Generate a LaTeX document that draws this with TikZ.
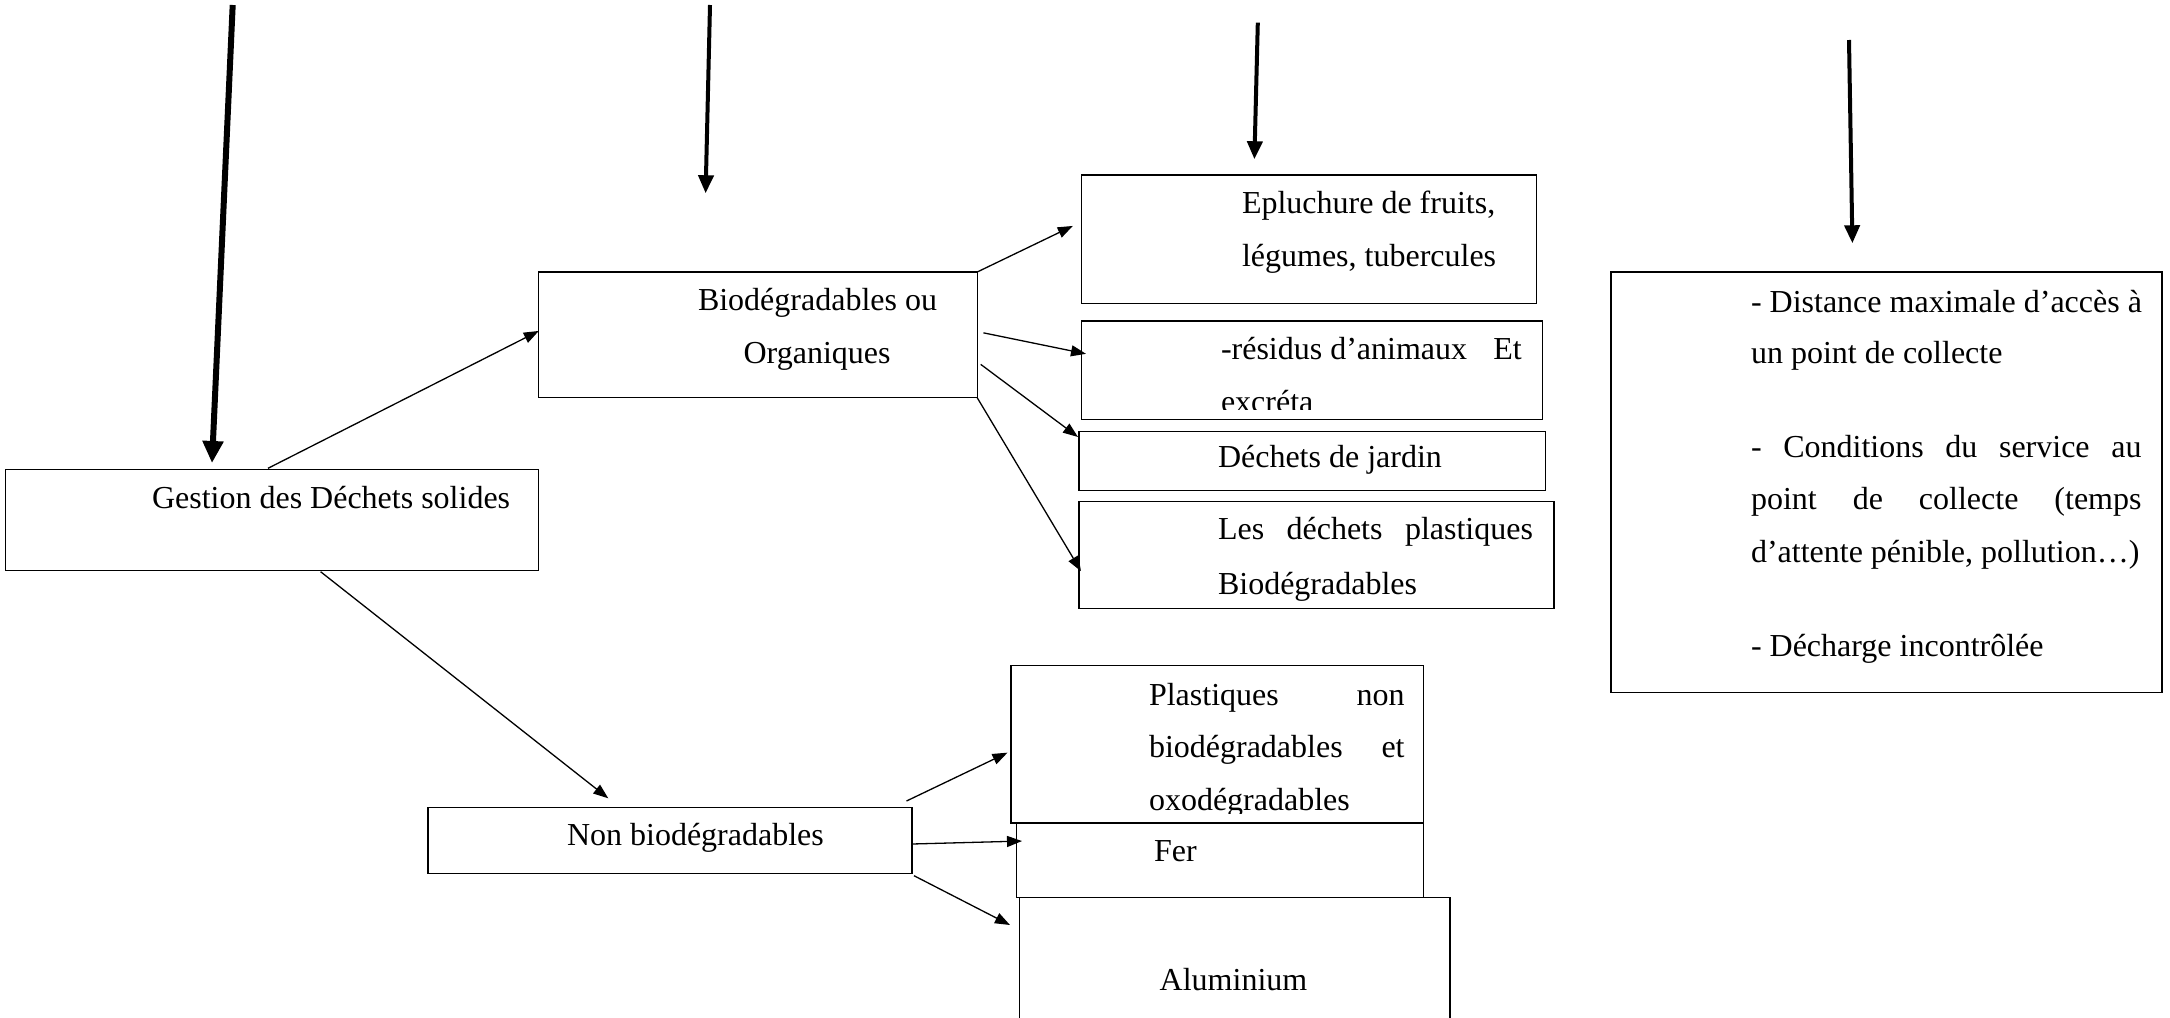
\documentclass[tikz,border=0pt]{standalone}
\usepackage{fontspec}
\setmainfont{Liberation Serif}
\usetikzlibrary{arrows.meta}
\begin{document}
\begin{tikzpicture}[x=1pt,y=-1pt,
  box/.style={draw, line width=1.2pt, anchor=north west, inner sep=0pt, outer sep=0pt},
  txt/.style={anchor=base west, inner sep=0pt, outer sep=0pt, font=\fontsize{32}{38}\selectfont},
  thinarrow/.style={line width=1.3pt, -{Triangle[length=15pt,width=11pt]}},
  bigarrow/.style={line width=6pt, -{Triangle[length=22pt,width=20pt]}},
  midarrow/.style={line width=4pt, -{Triangle[length=18pt,width=15pt]}}]
\useasboundingbox[fill=white] (0,0) rectangle (2170,1017);

% boxes
\node[box, minimum width=533.2pt, minimum height=100.8pt] (gestion) at (5.6,469.5) {};
\node[box, minimum width=438.4pt, minimum height=125.7pt] (bio) at (538.8,272) {};
\node[box, minimum width=455.2pt, minimum height=128.3pt] (epl) at (1081.6,175) {};
\node[box, minimum width=460.9pt, minimum height=98.5pt] (res) at (1081.6,321) {};
\node[box, minimum width=466.6pt, minimum height=58.5pt] (jar) at (1079,431.7) {};
\node[box, minimum width=475pt, minimum height=107.5pt] (pbio) at (1079,501.2) {};
\node[box, minimum width=484pt, minimum height=66pt] (nonbio) at (428,807.7) {};
\node[box, minimum width=412.5pt, minimum height=157.7pt] (pnon) at (1011,665.3) {};
\node[box, minimum width=406.9pt, minimum height=74.7pt] (fer) at (1016.6,823) {};
\node[box, minimum width=430.6pt, minimum height=140pt] (alu) at (1019.4,897.7) {};
\node[box, minimum width=551pt, minimum height=420.7pt] (droite) at (1611,272) {};

% texts
\node[txt] (tgestion) at (152,508.5) {Gestion des Déchets solides};
\node[txt] (tbio1) at (698,310.5) {Biodégradables ou};
\node[txt] (tbio2) at (743.6,363.3) {Organiques};
\node[txt] (tepl1) at (1242,213) {Epluchure de fruits,};
\node[txt] (tepl2) at (1242,266.7) {légumes, tubercules};
\node[txt] (tres1) at (1221,359.5) {\hbox to 300.8pt{-résidus d’animaux\hfill Et}};
\begin{scope}
\clip (1082,330) rectangle (1542,409);
\node[txt] (tres2) at (1221,412) {excréta};
\end{scope}
\node[txt] (tjar) at (1218,467.5) {Déchets de jardin};
\node[txt] (tpbio1) at (1218,539.5) {\hbox to 315pt{Les\hfill déchets\hfill plastiques}};
\node[txt] (tpbio2) at (1218,594.5) {Biodégradables};
\node[txt] (tnonbio) at (567,845.5) {Non biodégradables};
\node[txt] (tpnon1) at (1149,705) {\hbox to 255.6pt{Plastiques\hfill non}};
\node[txt] (tpnon2) at (1149,757) {\hbox to 255.6pt{biodégradables\hfill et}};
\begin{scope}
\clip (1012,770) rectangle (1423,813);
\node[txt] (tpnon3) at (1149,810.7) {oxodégradables};
\end{scope}
\node[txt] (tfer) at (1154,861.7) {Fer};
\node[txt] (talu) at (1159.7,990) {Aluminium};
\node[txt] (td1) at (1751,312) {- Distance maximale d’accès à};
\node[txt] (td2) at (1751,363.5) {un point de collecte};
\node[txt] (td3) at (1751,457) {\hbox to 390.5pt{-\hfill Conditions\hfill du\hfill service\hfill au}};
\node[txt] (td4) at (1751,509.5) {\hbox to 390.5pt{point\hfill de\hfill collecte\hfill (temps}};
\node[txt] (td5) at (1751,562.5) {d’attente pénible, pollution…)};
\node[txt] (td6) at (1751,656) {- Décharge incontrôlée};

% free starts of top arrows
\coordinate (s1) at (232.7,5);
\coordinate (s2) at (710,5);
\coordinate (s3) at (1257.8,22.7);
\coordinate (s4) at (1849,40);

\draw[bigarrow] (s1) -- ([xshift=206.4pt,yshift=6.5pt]gestion.north west);
\draw[midarrow] (s2) -- ([xshift=166.8pt,yshift=78.7pt]bio.north west);
\draw[midarrow] (s3) -- ([xshift=172.8pt,yshift=15.7pt]epl.north west);
\draw[midarrow] (s4) -- ([xshift=241.4pt,yshift=28.7pt]droite.north west);

% thin connectors
\draw[thinarrow] ([xshift=262.4pt,yshift=1.2pt]gestion.north west) -- ([yshift=3.9pt]bio.west);
\draw[thinarrow] ([xshift=315pt,yshift=-1.4pt]gestion.south west) -- ([xshift=180.3pt,yshift=9.4pt]nonbio.north west);
\draw[thinarrow] (bio.north east) -- ([xshift=-8.8pt,yshift=13.2pt]epl.west);
\draw[thinarrow] ([xshift=6.3pt,yshift=2pt]bio.east) -- ([xshift=4.4pt,yshift=16.4pt]res.west);
\draw[thinarrow] ([xshift=3.5pt,yshift=-29.5pt]bio.east) -- ([xshift=-1pt,yshift=-5.3pt]jar.north west);
\draw[thinarrow] (bio.south east) -- ([xshift=2pt,yshift=-16.2pt]pbio.west);
\draw[thinarrow] ([xshift=-5.5pt,yshift=6.7pt]nonbio.north east) -- ([xshift=-3.5pt,yshift=-8.5pt]pnon.west);
\draw[thinarrow] ([yshift=-3.3pt]nonbio.east) -- ([xshift=5.4pt,yshift=19.3pt]fer.west);
\draw[thinarrow] ([xshift=2pt,yshift=-2pt]nonbio.south east) -- ([xshift=-9.4pt,yshift=-27.3pt]alu.north west);
\end{tikzpicture}
\end{document}
